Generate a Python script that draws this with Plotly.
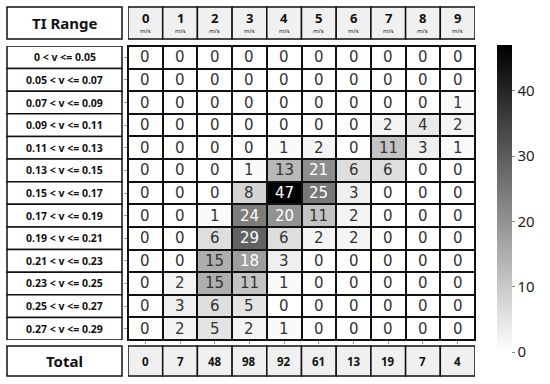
import plotly.graph_objects as go

speeds = ["0", "1", "2", "3", "4", "5", "6", "7", "8", "9"]
ti_ranges = ["0 < v <= 0.05", "0.05 < v <= 0.07", "0.07 < v <= 0.09", "0.09 < v <= 0.11",
             "0.11 < v <= 0.13", "0.13 < v <= 0.15", "0.15 < v <= 0.17", "0.17 < v <= 0.19",
             "0.19 < v <= 0.21", "0.21 < v <= 0.23", "0.23 < v <= 0.25", "0.25 < v <= 0.27",
             "0.27 < v <= 0.29"]
counts = [
    [0, 0, 0, 0, 0, 0, 0, 0, 0, 0],
    [0, 0, 0, 0, 0, 0, 0, 0, 0, 0],
    [0, 0, 0, 0, 0, 0, 0, 0, 0, 1],
    [0, 0, 0, 0, 0, 0, 0, 2, 4, 2],
    [0, 0, 0, 0, 1, 2, 0, 11, 3, 1],
    [0, 0, 0, 1, 13, 21, 6, 6, 0, 0],
    [0, 0, 0, 8, 47, 25, 3, 0, 0, 0],
    [0, 0, 1, 24, 20, 11, 2, 0, 0, 0],
    [0, 0, 6, 29, 6, 2, 2, 0, 0, 0],
    [0, 0, 15, 18, 3, 0, 0, 0, 0, 0],
    [0, 2, 15, 11, 1, 0, 0, 0, 0, 0],
    [0, 3, 6, 5, 0, 0, 0, 0, 0, 0],
    [0, 2, 5, 2, 1, 0, 0, 0, 0, 0],
]
totals = [0, 7, 48, 98, 92, 61, 13, 19, 7, 4]

W, H = 550, 384
L, R, T, B = 128, 75, 46, 44
pw, ph = W - L - R, H - T - B

def py(ypx):
    return (H - B - ypx) / ph

def px(xpx):
    return (xpx - L) / pw

nrows, ncols = len(ti_ranges), len(speeds)
zmax = 47

fig = go.Figure()
fig.add_trace(go.Heatmap(
    z=counts, x=list(range(ncols)), y=list(range(nrows)),
    colorscale=[[0, "rgb(255,255,255)"], [1, "rgb(0,0,0)"]],
    zmin=0, zmax=zmax, xgap=2, ygap=2, hoverinfo="skip",
    colorbar=dict(
        x=px(497), xanchor="left", xpad=0, ypad=0, thickness=15, thicknessmode="pixels",
        len=307, lenmode="pixels", y=py(198.5), yanchor="middle",
        outlinewidth=0, ticks="outside", ticklen=3, tickcolor="#888",
        tickvals=[0, 10, 20, 30, 40], tickprefix="\u00a0\u00a0",
        tickfont=dict(family="Noto Sans", size=15, color="#222"),
    ),
))

shapes = []
annotations = []
LW = 1.5

def ann(**kw):
    d = dict(showarrow=False, xanchor="center", yanchor="middle")
    d.update(kw)
    annotations.append(d)

for i in range(nrows):
    for j in range(ncols):
        v = counts[i][j]
        ann(x=j, y=i, xref="x", yref="y", text=str(v),
            font=dict(family="DejaVu Sans", size=15,
                      color="white" if v > 0.35 * zmax else "#333"))

# header row and total row
hy0, hy1 = py(39), py(7)
ty0, ty1 = py(376), py(346)
for j, s in enumerate(speeds):
    shapes.append(dict(type="rect", xref="x", yref="paper", x0=j - 0.5, x1=j + 0.5,
                       y0=hy0, y1=hy1, fillcolor="#f0f0f0",
                       line=dict(color="#111", width=LW)))
    ann(x=j, xref="x", y=py(18), yref="paper", text="<b>%s</b>" % s,
        font=dict(family="Noto Sans", size=13, color="#111"))
    ann(x=j, xref="x", y=py(31), yref="paper", text="m/s",
        font=dict(family="Noto Sans", size=6, color="#111"))
    shapes.append(dict(type="rect", xref="x", yref="paper", x0=j - 0.5, x1=j + 0.5,
                       y0=ty0, y1=ty1, fillcolor="#f0f0f0",
                       line=dict(color="#111", width=LW)))
    ann(x=j, xref="x", y=(ty0 + ty1) / 2, yref="paper", text="<b>%d</b>" % totals[j],
        font=dict(family="Noto Sans", size=11.5, color="#111"))

lx0, lx1 = px(7), px(122)
shapes.append(dict(type="rect", xref="paper", yref="paper", x0=lx0, x1=lx1, y0=hy0, y1=hy1,
                   fillcolor="white", line=dict(color="#111", width=LW)))
ann(x=(lx0 + lx1) / 2, y=(hy0 + hy1) / 2, xref="paper", yref="paper",
    text="<b>TI Range</b>", font=dict(family="Noto Sans", size=15, color="#111"))
shapes.append(dict(type="rect", xref="paper", yref="paper", x0=lx0, x1=lx1, y0=ty0, y1=ty1,
                   fillcolor="white", line=dict(color="#111", width=LW)))
ann(x=(lx0 + lx1) / 2, y=(ty0 + ty1) / 2, xref="paper", yref="paper",
    text="<b>Total</b>", font=dict(family="Noto Sans", size=15, color="#111"))

for i, lab in enumerate(ti_ranges):
    shapes.append(dict(type="rect", xref="paper", yref="y", x0=lx0, x1=lx1,
                       y0=i - 0.5, y1=i + 0.5, fillcolor="white",
                       line=dict(color="#111", width=LW)))
    ann(x=(lx0 + lx1) / 2, xref="paper", y=i, yref="y",
        text="<b>%s</b>" % lab.replace("<", "&lt;"),
        font=dict(family="Noto Sans", size=10.5, color="#111"))

fig.update_layout(
    width=W, height=H, margin=dict(l=L, r=R, t=T, b=B, autoexpand=False),
    paper_bgcolor="white", plot_bgcolor="#111",
    shapes=shapes, annotations=annotations,
    xaxis=dict(range=[-0.5, ncols - 0.5], showticklabels=False, ticks="outside", ticklen=3,
               tickcolor="#999", tickvals=list(range(ncols)), showgrid=False, zeroline=False,
               showline=True, linecolor="#111", linewidth=1, mirror=True),
    yaxis=dict(range=[nrows - 0.5, -0.5], showticklabels=False, ticks="outside", ticklen=3,
               tickcolor="#999", tickvals=list(range(nrows)), showgrid=False, zeroline=False,
               showline=True, linecolor="#111", linewidth=1, mirror=True),
)

fig.write_html("out.html", config={"displayModeBar": False},
               post_script="document.body.style.margin='0';")
